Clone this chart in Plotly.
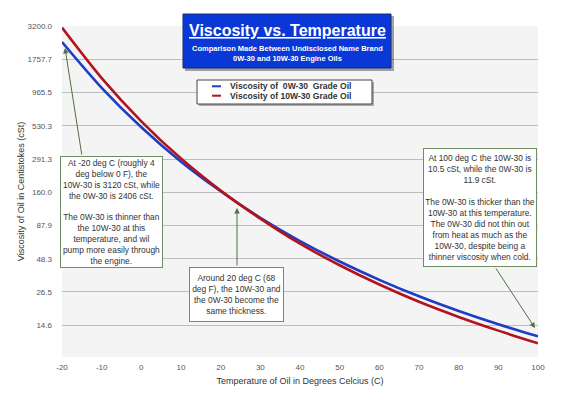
import math
import plotly.graph_objects as go

# ---------------- data ----------------
temps_c = [-20, -10, 0, 10, 20, 30, 40, 50, 60, 70, 80, 90, 100]
visc_0w30 = [2406, 1053, 517, 278, 163, 101, 66.4, 45.9, 33.0, 24.5, 18.8, 14.8, 11.9]
visc_10w30 = [3120, 1255, 576, 294, 165, 99.6, 63.4, 42.9, 30.3, 22.2, 16.9, 13.2, 10.5]
series_names = ["Viscosity of  0W-30  Grade Oil", "Viscosity of 10W-30 Grade Oil"]
y_tick_vals = [3200.0, 1757.7, 965.5, 530.3, 291.3, 160.0, 87.9, 48.3, 26.5, 14.6]
x_tick_vals = [-20, -10, 0, 10, 20, 30, 40, 50, 60, 70, 80, 90, 100]

title_text = "Viscosity vs. Temperature"
subtitle_text = "Comparison Made Between Undisclosed Name Brand<br>0W-30 and 10W-30 Engine Oils"
note_left = ("At -20 deg C (roughly 4<br>deg below 0 F), the<br>10W-30 is 3120 cSt, while<br>"
             "the 0W-30 is 2406 cSt.<br><br>The 0W-30 is thinner than<br>the 10W-30 at this<br>"
             "temperature, and wil<br>pump more easily through<br>the engine.")
note_mid = "Around 20 deg C (68<br>deg F), the 10W-30 and<br>the 0W-30 become the<br>same thickness."
note_right = ("At 100 deg C the 10W-30 is<br>10.5 cSt, while the 0W-30 is<br>11.9 cSt.<br><br>"
              "The 0W-30 is thicker than the<br>10W-30 at this temperature.<br>The 0W-30 did not thin out<br>"
              "from heat as much as the<br>10W-30, despite being a<br>thinner viscosity when cold.")

# ---------------- layout geometry (pixels, in page coordinates) ----------------
OFF = 8  # page body margin
W, H = 582 - OFF, 400 - OFF
L, R, T, B = 62, 538, 26, 357

def px(x):
    return (x - L) / (R - L)

def py(y):
    return (B - y) / (B - T)

FONT = "Arial, 'Liberation Sans', Helvetica, sans-serif"
BLUE = "#1f3cc4"
RED = "#b3141c"
GREEN = "#6f8f62"
ARROW = "#4f7043"

fig = go.Figure()
fig.add_trace(go.Scatter(x=temps_c, y=visc_0w30, mode="lines", name=series_names[0],
                         line=dict(color=BLUE, width=2.6, shape="spline", smoothing=0.8),
                         showlegend=False))
fig.add_trace(go.Scatter(x=temps_c, y=visc_10w30, mode="lines", name=series_names[1],
                         line=dict(color=RED, width=2.6, shape="spline", smoothing=0.8),
                         showlegend=False))

shapes = []
annotations = []

# title box with shadow
shapes.append(dict(type="rect", xref="paper", yref="paper", x0=px(185), x1=px(394), y0=py(71), y1=py(16),
                   fillcolor="rgba(0,0,0,0.35)", line=dict(width=0), layer="above"))
shapes.append(dict(type="rect", xref="paper", yref="paper", x0=px(183), x1=px(391), y0=py(68), y1=py(14),
                   fillcolor="#0a38d6", line=dict(color="#1a2a7a", width=1), layer="above"))
annotations.append(dict(xref="paper", yref="paper", x=px(287), y=py(31), text="<b><u>" + title_text + "</u></b>",
                        showarrow=False, font=dict(family=FONT, size=16, color="white"),
                        xanchor="center", yanchor="middle"))
annotations.append(dict(xref="paper", yref="paper", x=px(287), y=py(53.5), text="<b>" + subtitle_text + "</b>",
                        showarrow=False, font=dict(family=FONT, size=7.5, color="white"),
                        xanchor="center", yanchor="middle"))

# legend box with shadow
shapes.append(dict(type="rect", xref="paper", yref="paper", x0=px(199), x1=px(374), y0=py(106), y1=py(82),
                   fillcolor="rgba(0,0,0,0.3)", line=dict(width=0), layer="above"))
shapes.append(dict(type="rect", xref="paper", yref="paper", x0=px(197), x1=px(372), y0=py(104), y1=py(80),
                   fillcolor="white", line=dict(color="#444", width=1), layer="above"))
for i, (nm, col) in enumerate(zip(series_names, [BLUE, RED])):
    yy = 86.3 + 9.4 * i
    shapes.append(dict(type="line", xref="paper", yref="paper", x0=px(212), x1=px(221), y0=py(yy), y1=py(yy),
                       line=dict(color=col, width=2), layer="above"))
    annotations.append(dict(xref="paper", yref="paper", x=px(228), y=py(yy),
                            text="<b>" + nm.replace("  ", " \u00a0") + "</b>", showarrow=False,
                            font=dict(family=FONT, size=8.6, color="#333"), xanchor="left", yanchor="middle"))

# arrows (tip, tail in pixels)
for (tx, ty), (sx, sy) in [((65, 48), (82, 156)), ((237, 208), (237, 267)), ((535, 328), (495, 267))]:
    annotations.append(dict(xref="paper", yref="paper", x=px(tx), y=py(ty), ax=sx - tx, ay=sy - ty,
                            text="", showarrow=True, arrowhead=2, arrowsize=1.1, arrowwidth=1,
                            arrowcolor=ARROW))

# note boxes
for txt, (x0, y0, x1, y1) in [(note_left, (60, 156, 163, 268)),
                              (note_mid, (189, 267, 284, 322)),
                              (note_right, (423, 148, 537, 267))]:
    annotations.append(dict(xref="paper", yref="paper", x=px((x0 + x1) / 2), y=py((y0 + y1) / 2),
                            text=txt, showarrow=False, xanchor="center", yanchor="middle",
                            width=x1 - x0 - 4, height=y1 - y0 - 4, align="center", valign="middle",
                            bgcolor="white", bordercolor=GREEN, borderwidth=1, borderpad=1,
                            font=dict(family=FONT, size=8.4, color="#333")))

fig.update_layout(
    width=W, height=H,
    margin=dict(l=L - OFF, r=582 - R, t=T - OFF, b=400 - B, pad=0),
    paper_bgcolor="white",
    plot_bgcolor="#f4f4f4",
    font=dict(family=FONT, color="#555"),
    shapes=shapes,
    annotations=annotations,
    showlegend=False,
)
fig.update_xaxes(range=[-20, 100], tickvals=x_tick_vals, ticktext=[str(v) for v in x_tick_vals],
                 showgrid=False, zeroline=False, showline=False, automargin=False,
                 tickfont=dict(size=8, color="#555"), ticks="", ticklabelstandoff=4,
                 title=dict(text="Temperature of Oil in Degrees Celcius (C)", font=dict(size=9, color="#333"),
                            standoff=6))
fig.update_yaxes(type="log", range=[math.log10(8.2), math.log10(3215)], tickvals=y_tick_vals,
                 ticktext=[f"{v:.1f}" for v in y_tick_vals], showgrid=True, gridcolor="#bdbdbd", gridwidth=1,
                 zeroline=False, showline=False, ticks="", ticklabelstandoff=9, automargin=False,
                 tickfont=dict(size=8, color="#555"),
                 title=dict(text="Viscosity of Oil in Centistokes (cSt)", font=dict(size=9, color="#333"),
                            standoff=1))

fig.write_html("out.html")
